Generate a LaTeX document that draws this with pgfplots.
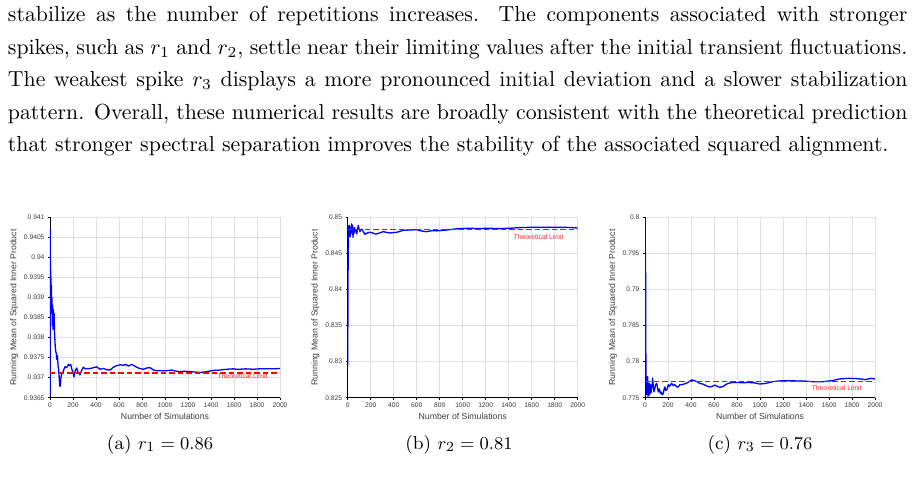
\documentclass[border=0pt]{standalone}
\usepackage{pgfplots}
\pgfplotsset{compat=1.18}
\usepackage{fontspec}
\newfontfamily\arialfont{Liberation Sans}
\definecolor{tcol}{RGB}{60,60,60}
\definecolor{limred}{RGB}{255,0,0}
\definecolor{labred}{RGB}{240,40,40}
\tikzset{
  blueline/.style={blue, line width=1.3pt, line join=round},
  redline/.style={limred, line width=1.7pt, dash pattern=on 5.5pt off 3pt},
  limlabel/.style={text=labred, font=\arialfont\fontsize{6.8}{7}\selectfont},
}
\pgfplotsset{
  myax/.style={
    scale only axis, width=230pt, height=180.4pt,
    xmin=0, xmax=2000,
    xtick={0,200,...,2000},
    xticklabels={0,200,400,600,800,1000,1200,1400,1600,1800,2000},
    axis lines=left, axis line style={-, black, line width=0.8pt},
    grid=major, major grid style={gray!25, line width=0.7pt},
    tick align=outside, major tick length=2pt, tick style={black, line width=0.6pt},
    ticklabel style={font=\arialfont\fontsize{6.7}{7}\selectfont, text=tcol},
    label style={font=\arialfont\fontsize{8.7}{9}\selectfont, text=tcol},
    xlabel={Number of Simulations},
    ylabel={Running Mean of Squared Inner Product},
    ylabel style={yshift=-1pt},
    xlabel style={yshift=2pt},
    clip=true,
  },
}
\newcommand\fline[1]{\makebox[412.6pt][s]{#1}\\}
\begin{document}
\begin{tikzpicture}[x=1pt,y=1pt]
\useasboundingbox (0,0) rectangle (915,-478);
\node[anchor=base west, inner sep=0, scale=2.18] at (7.5,-21.7) {\parbox[t]{412.6pt}{\fontsize{10}{14.908}\selectfont\noindent
\spaceskip=3.33pt plus 2pt minus 1.6pt\xspaceskip=4.6pt plus 2.5pt minus 1.6pt%
\fline{stabilize as the number of repetitions increases.\hspace{2.5pt} The components associated with stronger}
\fline{spikes, such as $r_1$ and $r_2$, settle near their limiting values after the initial transient fluctuations.}
\fline{The weakest spike $r_3$ displays a more pronounced initial deviation and a slower stabilization}
\fline{pattern. Overall, these numerical results are broadly consistent with the theoretical prediction}
that stronger spectral separation improves the stability of the associated squared alignment.}};

% (a)
\begin{axis}[myax, at={(50pt,-397.7pt)}, anchor=south west,
  ymin=0.9365, ymax=0.941,
  ytick={0.9365,0.937,0.9375,0.938,0.9385,0.939,0.9395,0.94,0.9405,0.941},
  yticklabels={0.9365,0.937,0.9375,0.938,0.9385,0.939,0.9395,0.94,0.9405,0.941}]
\addplot[blueline] coordinates {(0,0.93655) (1,0.9366) (2,0.9407) (3,0.9401) (4,0.9396) (5,0.9398) (6,0.9392) (8,0.9395) (10,0.9389) (12,0.9393) (14,0.9386) (17,0.9390) (20,0.9383) (23,0.9388) (26,0.9382) (29,0.9387) (32,0.9383) (36,0.9386) (40,0.9381) (45,0.9378) (50,0.93765) (55,0.9376) (60,0.93745) (65,0.93755) (70,0.9373) (75,0.9372) (80,0.9370) (85,0.93678) (90,0.9368) (95,0.9370) (100,0.93708) (110,0.93712) (120,0.9372) (130,0.93727) (145,0.93725) (160,0.93733) (172,0.9373) (180,0.93733) (188,0.93723) (200,0.93712) (209,0.93702) (220,0.93718) (232,0.93724) (245,0.93712) (261,0.93707) (275,0.93718) (290,0.93726) (305,0.93722) (319,0.93722) (350,0.93723) (380,0.93725) (406,0.93727) (435,0.93721) (464,0.93723) (490,0.9372) (522,0.93719) (551,0.93726) (580,0.9373) (609,0.93732) (640,0.93731) (660,0.93733) (681,0.93729) (710,0.93733) (730,0.9373) (754,0.93726) (780,0.93723) (812,0.93721) (840,0.93724) (870,0.93725) (900,0.93719) (928,0.93717) (970,0.93717) (1014,0.93717) (1058,0.93719) (1100,0.93716) (1130,0.93715) (1170,0.93716) (1217,0.93715) (1260,0.93714) (1304,0.93713) (1340,0.93714) (1362,0.93715) (1420,0.93718) (1480,0.93719) (1536,0.93721) (1594,0.93722) (1620,0.93721) (1652,0.93721) (1700,0.93722) (1768,0.93721) (1820,0.93722) (1884,0.93722) (1950,0.93722) (2000,0.93723)};
\addplot[redline] coordinates {(0,0.93712) (2000,0.93712)};
\node[limlabel] at (axis cs:1674,0.93704) {Theoretical Limit};
\end{axis}

% (b)
\begin{axis}[myax, at={(347.7pt,-397.7pt)}, anchor=south west,
  ymin=0.825, ymax=0.85,
  ytick={0.825,0.83,0.835,0.84,0.845,0.85},
  yticklabels={0.825,0.83,0.835,0.84,0.845,0.85}]
\addplot[blueline] coordinates {(0,0.8295) (1,0.8300) (2,0.8482) (3,0.8470) (4,0.8486) (5,0.8427) (6,0.8478) (8,0.8488) (10,0.8474) (13,0.8489) (16,0.8476) (19,0.8487) (22,0.8473) (26,0.8485) (30,0.8478) (34,0.8491) (38,0.8479) (42,0.8489) (46,0.8472) (50,0.8484) (55,0.8478) (60,0.8486) (66,0.8480) (72,0.8482) (78,0.8477) (85,0.8483) (92,0.84888) (98,0.84845) (107,0.84800) (115,0.84825) (121,0.84838) (130,0.84820) (136,0.84801) (150,0.84764) (165,0.84778) (180,0.84790) (194,0.84792) (215,0.84785) (235,0.84770) (251,0.84769) (280,0.84785) (309,0.84801) (340,0.84790) (367,0.84783) (400,0.84788) (425,0.84792) (455,0.84805) (483,0.8482) (510,0.84822) (540,0.84824) (570,0.84826) (598,0.84829) (630,0.84815) (660,0.84805) (685,0.84801) (715,0.84810) (743,0.84815) (770,0.84812) (800,0.84815) (850,0.84822) (887,0.84829) (930,0.84838) (974,0.84843) (1020,0.84846) (1061,0.84848) (1100,0.84846) (1147,0.84843) (1190,0.84847) (1234,0.84848) (1280,0.84845) (1321,0.84843) (1365,0.84846) (1408,0.84848) (1450,0.84852) (1494,0.84857) (1540,0.84859) (1581,0.84861) (1620,0.84862) (1668,0.84861) (1720,0.84862) (1783,0.84861) (1840,0.84862) (1899,0.84861) (1950,0.84857) (2000,0.84852)};
\addplot[redline] coordinates {(0,0.8483) (2000,0.8483)};
\node[limlabel] at (axis cs:1660,0.84732) {Theoretical Limit};
\end{axis}

% (c)
\begin{axis}[myax, at={(645pt,-397.7pt)}, anchor=south west,
  ymin=0.775, ymax=0.8,
  ytick={0.775,0.78,0.785,0.79,0.795,0.8},
  yticklabels={0.775,0.78,0.785,0.79,0.795,0.8}]
\addplot[blueline] coordinates {(0,0.8) (1,0.7905) (2,0.7995) (3,0.7950) (4,0.7910) (5,0.7935) (6,0.7850) (8,0.7791) (10,0.7775) (12,0.7780) (14,0.7754) (17,0.7772) (20,0.7758) (23,0.7779) (26,0.7752) (30,0.7768) (34,0.7753) (38,0.7770) (43,0.7755) (48,0.7768) (53,0.7757) (58,0.7764) (63,0.7770) (66,0.7777) (72,0.7766) (78,0.7758) (84,0.7762) (92,0.7768) (101,0.7770) (108,0.7765) (115,0.7758) (125,0.7762) (132,0.7756) (140,0.7758) (150,0.7754) (159,0.7756) (166,0.7762) (173,0.7765) (180,0.7760) (188,0.7761) (195,0.7763) (202,0.7768) (215,0.7766) (231,0.7770) (245,0.7767) (260,0.7768) (275,0.7765) (289,0.7765) (303,0.7768) (317,0.7768) (340,0.7769) (361,0.7770) (380,0.7772) (404,0.77745) (420,0.77742) (433,0.77736) (455,0.7772) (476,0.77699) (500,0.7769) (519,0.77676) (540,0.77662) (563,0.77648) (585,0.77658) (606,0.77676) (625,0.7766) (649,0.77643) (665,0.7765) (678,0.77653) (700,0.7768) (722,0.77699) (745,0.77705) (765,0.77713) (810,0.7771) (851,0.77708) (900,0.7771) (938,0.77708) (970,0.777) (996,0.7769) (1025,0.77693) (1053,0.77699) (1080,0.7771) (1111,0.77722) (1150,0.7773) (1198,0.77736) (1240,0.77735) (1284,0.77736) (1330,0.7773) (1371,0.77731) (1410,0.77727) (1457,0.77722) (1500,0.7772) (1544,0.77722) (1590,0.7773) (1631,0.77736) (1660,0.7775) (1688,0.77759) (1730,0.77765) (1775,0.77768) (1820,0.77766) (1861,0.77763) (1900,0.77755) (1919,0.7775) (1940,0.7776) (1963,0.77768) (1985,0.77763) (2000,0.77759)};
\addplot[redline] coordinates {(0,0.77725) (2000,0.77725)};
\node[limlabel] at (axis cs:1667,0.77629) {Theoretical Limit};
\end{axis}

\node[anchor=base, scale=2] at (160,-449) {\fontsize{9.4}{11}\selectfont (a) $r_1 = 0.86$};
\node[anchor=base, scale=2] at (459,-449) {\fontsize{9.4}{11}\selectfont (b) $r_2 = 0.81$};
\node[anchor=base, scale=2] at (760,-449) {\fontsize{9.4}{11}\selectfont (c) $r_3 = 0.76$};
\end{tikzpicture}
\end{document}
